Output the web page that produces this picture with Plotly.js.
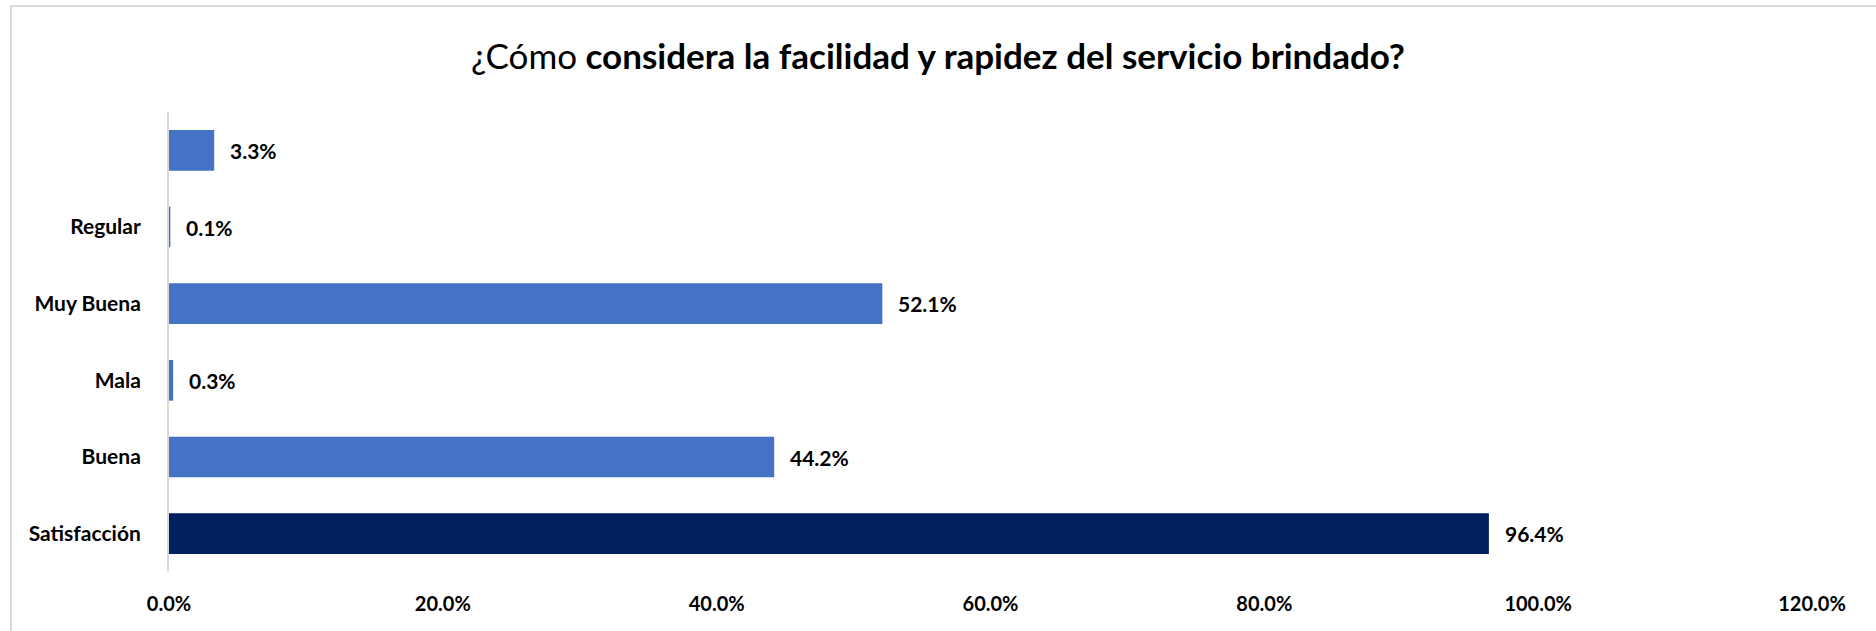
<!DOCTYPE html>
<html>
<head>
<meta charset="utf-8">
<script src="https://cdn.plot.ly/plotly-3.0.1.min.js"></script>
<style>html,body{margin:0;padding:0;background:#fff;}#chart{width:1876px;height:631px;}</style>
</head>
<body>
<div id="chart"></div>
<script>
const categories = ["Satisfacción", "Buena", "Mala", "Muy Buena", "Regular", " "];
const values = [0.964, 0.442, 0.003, 0.521, 0.001, 0.033];
const barColors = ["#002060", "#4472C4", "#4472C4", "#4472C4", "#4472C4", "#4472C4"];
const xTickVals = [0, 0.2, 0.4, 0.6, 0.8, 1.0, 1.2];
const xTickText = ["0.0%", "20.0%", "40.0%", "60.0%", "80.0%", "100.0%", "120.0%"];
const titleText = '<span style="font-weight:normal">¿Cómo</span> considera la facilidad y rapidez del servicio brindado?';

const FONT = "Lato, 'Open Sans', sans-serif";

const trace = {
  type: "bar",
  orientation: "h",
  x: values,
  y: categories,
  marker: {color: barColors, line: {width: 0}},
  hoverinfo: "skip"
};

const annotations = values.map((v, i) => ({
  x: v, y: categories[i], xref: "x", yref: "y",
  text: (v * 100).toFixed(1) + "%",
  showarrow: false, xanchor: "left", yanchor: "middle", xshift: 14,
  font: {family: FONT, size: 21, color: "#000", weight: "bold"}
}));

const layout = {
  width: 1876, height: 631,
  margin: {l: 169, r: 64, t: 112, b: 59},
  paper_bgcolor: "#fff", plot_bgcolor: "#fff",
  title: {text: titleText, x: 0.5, xanchor: "center", y: 0.91, yanchor: "middle",
          font: {family: FONT, size: 35, color: "#000", weight: "bold"}},
  bargap: 0.47,
  showlegend: false,
  xaxis: {range: [0, 1.2], tickvals: xTickVals, ticktext: xTickText, showgrid: false,
          zeroline: false, showline: false, ticks: "", ticklabelstandoff: 18,
          tickfont: {family: FONT, size: 20, color: "#000", weight: "bold"}, fixedrange: true},
  yaxis: {type: "category", categoryorder: "array", categoryarray: categories,
          showgrid: false, zeroline: false, showline: true, linecolor: "#d9d9d9", linewidth: 2,
          ticks: "", ticklabelstandoff: 22,
          tickfont: {family: FONT, size: 21, color: "#000", weight: "bold"}, fixedrange: true},
  annotations: annotations,
  shapes: [
    {type: "rect", xsizemode: "pixel", ysizemode: "pixel", xref: "paper", yref: "paper",
     xanchor: 0, yanchor: 1, x0: -158, x1: 1720, y0: 106, y1: -700,
     line: {color: "#d9d9d9", width: 2}, fillcolor: "rgba(0,0,0,0)", layer: "below"}
  ]
};

Plotly.newPlot("chart", [trace], layout, {displayModeBar: false, staticPlot: true});
</script>
</body>
</html>
